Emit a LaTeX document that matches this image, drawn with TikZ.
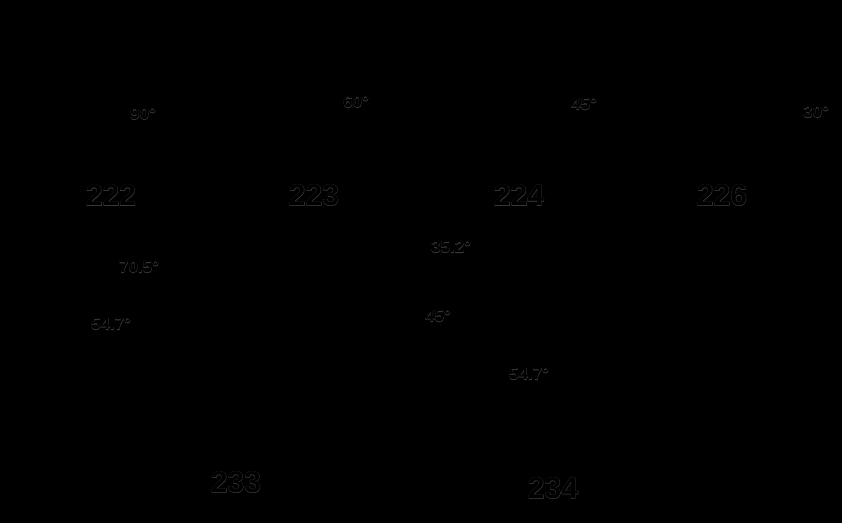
\documentclass[tikz,border=0pt]{standalone}
\usepackage{fontspec}
\setmainfont{Liberation Sans}
\definecolor{halo}{gray}{0.22}
\newcommand{\bigfont}{\fontsize{30}{32}\selectfont\bfseries}
\newcommand{\angfont}{\fontsize{17}{19}\selectfont\bfseries}
\newcommand{\halofeat}{\addfontfeatures{FakeBold=2.5}}
\newcommand{\twin}[4]{%
  \node[#2, text=halo, font=#2font\halofeat] at #3 {#4};
  \node[#2] (#1) at #3 {#4};}
\begin{document}
\begin{tikzpicture}[x=1pt,y=-1pt,
  big/.style={font=\bigfont, text=black, inner sep=0pt},
  ang/.style={font=\angfont, text=black, inner sep=0pt},
  bigfont/.style={}, angfont/.style={}]
\fill[black] (0,0) rectangle (842,523);
\useasboundingbox (0,0) rectangle (842,523);
\node[big, text=halo, font=\bigfont\halofeat] at (111,195) {222};
\node[big] (n222) at (111,195) {222};
\node[big, text=halo, font=\bigfont\halofeat] at (314,195) {223};
\node[big] (n223) at (314,195) {223};
\node[big, text=halo, font=\bigfont\halofeat] at (519,195) {224};
\node[big] (n224) at (519,195) {224};
\node[big, text=halo, font=\bigfont\halofeat] at (722,195) {226};
\node[big] (n226) at (722,195) {226};
\node[big, text=halo, font=\bigfont\halofeat] at (236,482) {233};
\node[big] (n233) at (236,482) {233};
\node[big, text=halo, font=\bigfont\halofeat] at (553,488) {234};
\node[big] (n234) at (553,488) {234};
\node[ang, text=halo, font=\angfont\halofeat] at (143,114) {90°};
\node[ang] (a90) at (143,114) {90°};
\node[ang, text=halo, font=\angfont\halofeat] at (356,102) {60°};
\node[ang] (a60) at (356,102) {60°};
\node[ang, text=halo, font=\angfont\halofeat] at (584,104) {45°};
\node[ang] (a45t) at (584,104) {45°};
\node[ang, text=halo, font=\angfont\halofeat] at (816,112) {30°};
\node[ang] (a30) at (816,112) {30°};
\node[ang, text=halo, font=\angfont\halofeat] at (451,247) {35.2°};
\node[ang] (a352) at (451,247) {35.2°};
\node[ang, text=halo, font=\angfont\halofeat] at (139,267) {70.5°};
\node[ang] (a705) at (139,267) {70.5°};
\node[ang, text=halo, font=\angfont\halofeat] at (111,324) {54.7°};
\node[ang] (a547a) at (111,324) {54.7°};
\node[ang, text=halo, font=\angfont\halofeat] at (438,316) {45°};
\node[ang] (a45b) at (438,316) {45°};
\node[ang, text=halo, font=\angfont\halofeat] at (529,374) {54.7°};
\node[ang] (a547b) at (529,374) {54.7°};
\end{tikzpicture}
\end{document}
